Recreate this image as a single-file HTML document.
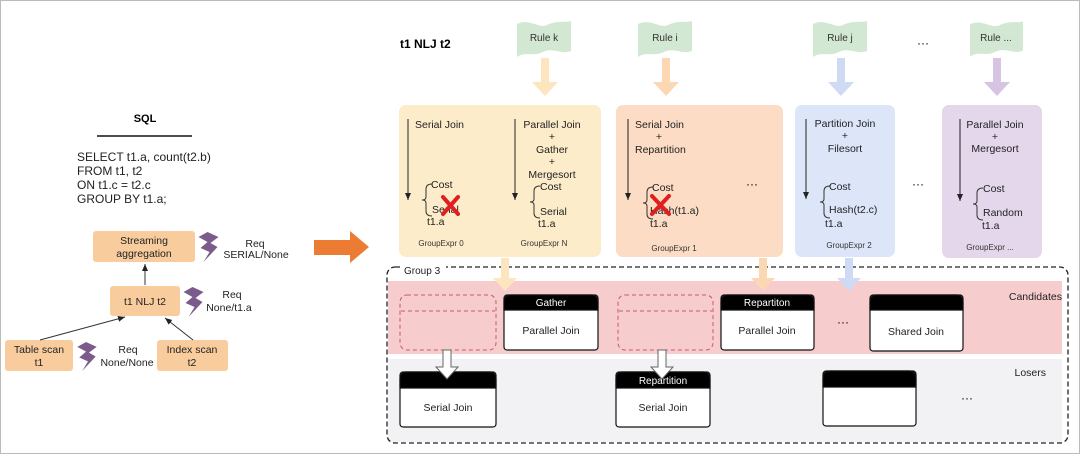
<!DOCTYPE html>
<html><head><meta charset="utf-8"><style>
html,body{margin:0;padding:0;background:#fff}
svg{display:block;font-family:"Liberation Sans",sans-serif}
</style></head><body>
<svg width="1080" height="454" viewBox="0 0 1080 454" xmlns="http://www.w3.org/2000/svg">
<defs>
<marker id="ah" markerWidth="8" markerHeight="8" refX="7" refY="4" orient="auto" markerUnits="userSpaceOnUse"><path d="M0,1 L7,4 L0,7 z" fill="#222"/></marker>
<symbol id="bolt" viewBox="0 0 20 30"><path d="M9,0 L20,5 L12,11 L19,15 L5,30 L11,20 L2,16 L9,10 L0,5 z" fill="#7a5b8c"/></symbol>
<symbol id="flag" viewBox="0 0 54 36"><path d="M0,3 C12,-3 22,8 30,4 C40,-1 48,2 54,0 L54,30 C44,34 36,26 26,31 C16,36 8,30 0,36 z" fill="#d3e8d2"/></symbol>
</defs>
<rect x="0.5" y="0.5" width="1079" height="453" fill="#fff" stroke="#bbb"/>

<!-- Left panel -->
<text x="145" y="122" font-size="11" font-weight="bold" text-anchor="middle">SQL</text>
<line x1="97" y1="136" x2="192" y2="136" stroke="#111" stroke-width="1.5"/>
<g font-size="12" fill="#222">
<text x="77" y="161">SELECT t1.a, count(t2.b)</text>
<text x="77" y="175">FROM t1, t2</text>
<text x="77" y="189">ON t1.c = t2.c</text>
<text x="77" y="203">GROUP BY t1.a;</text>
</g>
<g font-size="10.5" fill="#222" text-anchor="middle">
<rect x="93" y="231" width="102" height="31" rx="3" fill="#f9cc9e"/>
<text x="144" y="244">Streaming</text><text x="144" y="257">aggregation</text>
<rect x="110" y="286" width="70" height="30" rx="3" fill="#f9cc9e"/>
<text x="145" y="305">t1 NLJ t2</text>
<rect x="5" y="340" width="68" height="31" rx="3" fill="#f9cc9e"/>
<text x="39" y="353">Table scan</text><text x="39" y="366">t1</text>
<rect x="157" y="340" width="71" height="31" rx="3" fill="#f9cc9e"/>
<text x="192" y="353">Index scan</text><text x="192" y="366">t2</text>
<text x="255" y="247">Req</text><text x="256" y="258">SERIAL/None</text>
<text x="232" y="298">Req</text><text x="229" y="311">None/t1.a</text>
<text x="128" y="353">Req</text><text x="127" y="366">None/None</text>
</g>
<use href="#bolt" x="198" y="232" width="21" height="30"/>
<use href="#bolt" x="183" y="287" width="21" height="30"/>
<use href="#bolt" x="77" y="342" width="20" height="29"/>
<line x1="145" y1="285" x2="145" y2="264" stroke="#333" marker-end="url(#ah)"/>
<line x1="40" y1="340" x2="125" y2="317" stroke="#333" marker-end="url(#ah)"/>
<line x1="193" y1="340" x2="165" y2="318" stroke="#333" marker-end="url(#ah)"/>
<path d="M314,240 L350,240 L350,231 L369,247 L350,263 L350,255 L314,255 z" fill="#ec7c34"/>

<!-- Right header -->
<text x="400" y="48" font-size="12" font-weight="bold">t1 NLJ t2</text>
<use href="#flag" x="517" y="21" width="54" height="36"/>
<use href="#flag" x="638" y="21" width="54" height="36"/>
<use href="#flag" x="813" y="21" width="54" height="36"/>
<use href="#flag" x="970" y="21" width="53" height="36"/>
<g font-size="10" fill="#333" text-anchor="middle">
<text x="544" y="41">Rule k</text><text x="665" y="41">Rule i</text>
<text x="840" y="41">Rule j</text><text x="996" y="41">Rule ...</text>
</g>
<text x="923" y="47" font-size="12" text-anchor="middle">···</text>
<path d="M541,58 h8 v24 h9 l-13,14 l-13,-14 h9 z" fill="#fde6bf"/>
<path d="M662,58 h8 v24 h9 l-13,14 l-13,-14 h9 z" fill="#fbd7b4"/>
<path d="M837,58 h8 v24 h9 l-13,14 l-13,-14 h9 z" fill="#cfdbf5"/>
<path d="M993,58 h8 v24 h9 l-13,14 l-13,-14 h9 z" fill="#d7c4e2"/>

<!-- Expression boxes -->
<rect x="399" y="105" width="202" height="152" rx="7" fill="#fdecc9"/>
<rect x="616" y="105" width="167" height="152" rx="7" fill="#fcdcc4"/>
<rect x="795" y="105" width="100" height="152" rx="7" fill="#dce6f8"/>
<rect x="942" y="105" width="100" height="153" rx="7" fill="#e4d7eb"/>
<g stroke="#222" stroke-width="1">
<line x1="408" y1="119" x2="408" y2="200" marker-end="url(#ah)"/>
<line x1="515" y1="119" x2="515" y2="200" marker-end="url(#ah)"/>
<line x1="628" y1="119" x2="628" y2="200" marker-end="url(#ah)"/>
<line x1="806" y1="119" x2="806" y2="199" marker-end="url(#ah)"/>
<line x1="960" y1="119" x2="960" y2="201" marker-end="url(#ah)"/>
</g>
<g fill="none" stroke="#333">
<path d="M432,184 q-6,0 -6,5 v8 q0,3 -4,3 q4,0 4,3 v8 q0,5 6,5"/>
<path d="M540,186 q-6,0 -6,5 v8 q0,3 -4,3 q4,0 4,3 v8 q0,5 6,5"/>
<path d="M653,187 q-6,0 -6,5 v8 q0,3 -4,3 q4,0 4,3 v8 q0,5 6,5"/>
<path d="M830,186 q-6,0 -6,5 v8 q0,3 -4,3 q4,0 4,3 v8 q0,5 6,5"/>
<path d="M983,188 q-6,0 -6,5 v8 q0,3 -4,3 q4,0 4,3 v8 q0,5 6,5"/>
</g>
<g font-size="10.5" fill="#222">
<text x="415" y="128">Serial Join</text>
<text x="431" y="188">Cost</text><text x="432" y="213">Serial</text><text x="427" y="225">t1.a</text>
<text x="635" y="128">Serial Join</text>
<text x="635" y="153">Repartition</text>
<text x="652" y="191">Cost</text><text x="650" y="214">Hash(t1.a)</text><text x="650" y="227">t1.a</text>
<text x="540" y="190">Cost</text><text x="540" y="215">Serial</text><text x="538" y="227">t1.a</text>
<text x="829" y="190">Cost</text><text x="829" y="213">Hash(t2.c)</text><text x="825" y="227">t1.a</text>
<text x="983" y="192">Cost</text><text x="983" y="216">Random</text><text x="982" y="229">t1.a</text>
</g>
<g font-size="10.5" fill="#222" text-anchor="middle">
<text x="552" y="128">Parallel Join</text><text x="552" y="140">+</text>
<text x="552" y="153">Gather</text><text x="552" y="165">+</text>
<text x="552" y="178">Mergesort</text>
<text x="659" y="140">+</text>
<text x="845" y="127">Partition Join</text><text x="845" y="139">+</text><text x="845" y="152">Filesort</text>
<text x="995" y="128">Parallel Join</text><text x="995" y="140">+</text><text x="995" y="152">Mergesort</text>
</g>
<g font-size="8" fill="#333" text-anchor="middle">
<text x="441" y="246">GroupExpr 0</text><text x="544" y="246">GroupExpr N</text>
<text x="674" y="251">GroupExpr 1</text><text x="849" y="248">GroupExpr 2</text>
<text x="990" y="250">GroupExpr ...</text>
</g>
<text x="752" y="188" font-size="12" text-anchor="middle">···</text>
<text x="918" y="188" font-size="12" text-anchor="middle">···</text>
<g stroke="#e02020" stroke-width="4" stroke-linecap="round">
<line x1="443" y1="197" x2="458" y2="214"/><line x1="458" y1="197" x2="443" y2="214"/>
<line x1="652" y1="196" x2="669" y2="214"/><line x1="669" y1="196" x2="652" y2="214"/>
</g>

<!-- Group 3 -->
<rect x="388" y="281" width="674" height="73" fill="#f6cccd"/>
<rect x="388" y="359" width="674" height="83" fill="#f2f2f5"/>
<rect x="387" y="267" width="681" height="176" rx="8" fill="none" stroke="#222" stroke-width="1.3" stroke-dasharray="5,3"/>
<rect x="400" y="266" width="46" height="10" fill="#fff"/>
<text x="404" y="274" font-size="10" fill="#222">Group 3</text>
<text x="1062" y="300" font-size="10.5" fill="#222" text-anchor="end">Candidates</text>
<text x="1046" y="376" font-size="10.5" fill="#222" text-anchor="end">Losers</text>
<path d="M501,258 h8 v20 h8 l-12,13 l-12,-13 h8 z" fill="#fde6bf"/>
<path d="M759,258 h8 v20 h8 l-12,13 l-12,-13 h8 z" fill="#fbd7b4"/>
<path d="M845,258 h8 v20 h8 l-12,13 l-12,-13 h8 z" fill="#cfdbf5"/>

<g fill="none" stroke="#c85a6a" stroke-dasharray="4,3">
<rect x="400" y="295" width="96" height="55" rx="7"/><line x1="401" y1="311" x2="495" y2="311"/>
<rect x="618" y="295" width="95" height="55" rx="7"/><line x1="619" y1="311" x2="712" y2="311"/>
</g>
<g stroke="#111" stroke-width="1.2">
<rect x="504" y="295" width="94" height="55" rx="3" fill="#fff"/>
<path d="M504,310 v-8 q0,-7 7,-7 h80 q7,0 7,7 v8 z" fill="#000"/>
<rect x="721" y="295" width="93" height="55" rx="3" fill="#fff"/>
<path d="M721,310 v-8 q0,-7 7,-7 h79 q7,0 7,7 v8 z" fill="#000"/>
<rect x="870" y="295" width="93" height="56" rx="3" fill="#fff"/>
<path d="M870,310 v-8 q0,-7 7,-7 h79 q7,0 7,7 v8 z" fill="#000"/>
<rect x="400" y="372" width="96" height="55" rx="3" fill="#fff"/>
<path d="M400,388 v-9 q0,-7 7,-7 h82 q7,0 7,7 v9 z" fill="#000"/>
<rect x="616" y="372" width="94" height="55" rx="3" fill="#fff"/>
<path d="M616,388 v-9 q0,-7 7,-7 h80 q7,0 7,7 v9 z" fill="#000"/>
<rect x="823" y="371" width="93" height="55" rx="3" fill="#fff"/>
<path d="M823,387 v-9 q0,-7 7,-7 h79 q7,0 7,7 v9 z" fill="#000"/>
</g>
<path d="M443,350 h8 v17 h7 l-11,12 l-11,-12 h7 z" fill="#fff" stroke="#666"/>
<path d="M658,350 h8 v17 h7 l-11,12 l-11,-12 h7 z" fill="#fff" stroke="#666"/>
<g font-size="10" fill="#fff" text-anchor="middle">
<text x="551" y="306">Gather</text><text x="767" y="306">Repartiton</text><text x="663" y="384">Repartition</text>
</g>
<g font-size="10.5" fill="#222" text-anchor="middle">
<text x="551" y="334">Parallel Join</text><text x="767" y="334">Parallel Join</text>
<text x="916" y="335">Shared Join</text>
<text x="448" y="411">Serial Join</text><text x="663" y="411">Serial Join</text>
</g>
<text x="843" y="326" font-size="12" text-anchor="middle">···</text>
<text x="967" y="402" font-size="12" text-anchor="middle">···</text>
</svg>
</body></html>
